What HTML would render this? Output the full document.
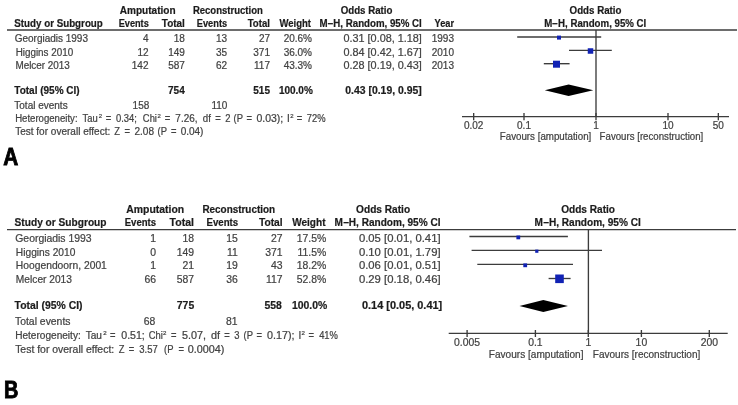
<!DOCTYPE html>
<html><head><meta charset="utf-8"><style>
html,body{margin:0;padding:0;background:#fff;width:738px;height:405px;overflow:hidden}
svg{display:block;font-family:"Liberation Sans",sans-serif;filter:blur(0.35px)}
</style></head><body>
<svg width="738" height="405" viewBox="0 0 738 405">
<rect width="738" height="405" fill="#fff"/>
<text x="119.80" y="14.30" font-size="10.0" font-weight="bold" textLength="55.80" lengthAdjust="spacingAndGlyphs" fill="#1c1c1c" stroke="#1c1c1c" stroke-width="0.2">Amputation</text>
<text x="192.90" y="14.30" font-size="10.0" font-weight="bold" textLength="69.90" lengthAdjust="spacingAndGlyphs" fill="#1c1c1c" stroke="#1c1c1c" stroke-width="0.2">Reconstruction</text>
<text x="340.70" y="14.30" font-size="10.0" font-weight="bold" textLength="51.80" lengthAdjust="spacingAndGlyphs" fill="#1c1c1c" stroke="#1c1c1c" stroke-width="0.2">Odds Ratio</text>
<text x="569.60" y="14.30" font-size="10.0" font-weight="bold" textLength="51.90" lengthAdjust="spacingAndGlyphs" fill="#1c1c1c" stroke="#1c1c1c" stroke-width="0.2">Odds Ratio</text>
<text x="14.30" y="27.30" font-size="10.0" font-weight="bold" textLength="88.50" lengthAdjust="spacingAndGlyphs" fill="#1c1c1c" stroke="#1c1c1c" stroke-width="0.2">Study or Subgroup</text>
<text x="118.70" y="27.30" font-size="10.0" font-weight="bold" textLength="30.10" lengthAdjust="spacingAndGlyphs" fill="#1c1c1c" stroke="#1c1c1c" stroke-width="0.2">Events</text>
<text x="161.80" y="27.30" font-size="10.0" font-weight="bold" textLength="23.10" lengthAdjust="spacingAndGlyphs" fill="#1c1c1c" stroke="#1c1c1c" stroke-width="0.2">Total</text>
<text x="196.80" y="27.30" font-size="10.0" font-weight="bold" textLength="30.30" lengthAdjust="spacingAndGlyphs" fill="#1c1c1c" stroke="#1c1c1c" stroke-width="0.2">Events</text>
<text x="247.70" y="27.30" font-size="10.0" font-weight="bold" textLength="22.30" lengthAdjust="spacingAndGlyphs" fill="#1c1c1c" stroke="#1c1c1c" stroke-width="0.2">Total</text>
<text x="279.40" y="27.30" font-size="10.0" font-weight="bold" textLength="31.60" lengthAdjust="spacingAndGlyphs" fill="#1c1c1c" stroke="#1c1c1c" stroke-width="0.2">Weight</text>
<text x="319.60" y="27.30" font-size="10.0" font-weight="bold" textLength="102.20" lengthAdjust="spacingAndGlyphs" fill="#1c1c1c" stroke="#1c1c1c" stroke-width="0.2">M&#8722;H, Random, 95% CI</text>
<text x="434.50" y="27.30" font-size="10.0" font-weight="bold" textLength="19.50" lengthAdjust="spacingAndGlyphs" fill="#1c1c1c" stroke="#1c1c1c" stroke-width="0.2">Year</text>
<text x="544.30" y="27.30" font-size="10.0" font-weight="bold" textLength="102.00" lengthAdjust="spacingAndGlyphs" fill="#1c1c1c" stroke="#1c1c1c" stroke-width="0.2">M&#8722;H, Random, 95% CI</text>
<line x1="7.00" y1="30.00" x2="737.00" y2="30.00" stroke="#3c3c3c" stroke-width="1.5"/>
<text x="14.75" y="42.00" font-size="10.0" textLength="73.18" lengthAdjust="spacingAndGlyphs" fill="#424242" stroke="#424242" stroke-width="0.22">Georgiadis 1993</text>
<text x="148.50" y="42.00" font-size="10.0" text-anchor="end" textLength="5.56" lengthAdjust="spacingAndGlyphs" fill="#424242" stroke="#424242" stroke-width="0.22">4</text>
<text x="184.90" y="42.00" font-size="10.0" text-anchor="end" textLength="11.12" lengthAdjust="spacingAndGlyphs" fill="#424242" stroke="#424242" stroke-width="0.22">18</text>
<text x="227.10" y="42.00" font-size="10.0" text-anchor="end" textLength="11.12" lengthAdjust="spacingAndGlyphs" fill="#424242" stroke="#424242" stroke-width="0.22">13</text>
<text x="270.00" y="42.00" font-size="10.0" text-anchor="end" textLength="11.12" lengthAdjust="spacingAndGlyphs" fill="#424242" stroke="#424242" stroke-width="0.22">27</text>
<text x="312.00" y="42.00" font-size="10.0" text-anchor="end" textLength="28.35" lengthAdjust="spacingAndGlyphs" fill="#424242" stroke="#424242" stroke-width="0.22">20.6%</text>
<text x="421.80" y="42.00" font-size="10.0" text-anchor="end" textLength="78.30" lengthAdjust="spacingAndGlyphs" fill="#424242" stroke="#424242" stroke-width="0.22">0.31 [0.08, 1.18]</text>
<text x="454.00" y="42.00" font-size="10.0" text-anchor="end" textLength="22.24" lengthAdjust="spacingAndGlyphs" fill="#424242" stroke="#424242" stroke-width="0.22">1993</text>
<line x1="517.20" y1="37.00" x2="601.20" y2="37.00" stroke="#3c3c3c" stroke-width="1.35"/>
<rect x="557.00" y="35.60" width="4.00" height="4.00" fill="#1122b4"/>
<text x="15.65" y="55.50" font-size="10.0" textLength="57.47" lengthAdjust="spacingAndGlyphs" fill="#424242" stroke="#424242" stroke-width="0.22">Higgins 2010</text>
<text x="148.50" y="55.50" font-size="10.0" text-anchor="end" textLength="11.12" lengthAdjust="spacingAndGlyphs" fill="#424242" stroke="#424242" stroke-width="0.22">12</text>
<text x="184.90" y="55.50" font-size="10.0" text-anchor="end" textLength="16.68" lengthAdjust="spacingAndGlyphs" fill="#424242" stroke="#424242" stroke-width="0.22">149</text>
<text x="227.10" y="55.50" font-size="10.0" text-anchor="end" textLength="11.12" lengthAdjust="spacingAndGlyphs" fill="#424242" stroke="#424242" stroke-width="0.22">35</text>
<text x="270.00" y="55.50" font-size="10.0" text-anchor="end" textLength="16.68" lengthAdjust="spacingAndGlyphs" fill="#424242" stroke="#424242" stroke-width="0.22">371</text>
<text x="312.00" y="55.50" font-size="10.0" text-anchor="end" textLength="28.35" lengthAdjust="spacingAndGlyphs" fill="#424242" stroke="#424242" stroke-width="0.22">36.0%</text>
<text x="421.80" y="55.50" font-size="10.0" text-anchor="end" textLength="78.30" lengthAdjust="spacingAndGlyphs" fill="#424242" stroke="#424242" stroke-width="0.22">0.84 [0.42, 1.67]</text>
<text x="454.00" y="55.50" font-size="10.0" text-anchor="end" textLength="22.24" lengthAdjust="spacingAndGlyphs" fill="#424242" stroke="#424242" stroke-width="0.22">2010</text>
<line x1="569.00" y1="50.30" x2="611.80" y2="50.30" stroke="#3c3c3c" stroke-width="1.35"/>
<rect x="587.75" y="48.25" width="5.50" height="5.50" fill="#1122b4"/>
<text x="15.45" y="68.80" font-size="10.0" textLength="54.42" lengthAdjust="spacingAndGlyphs" fill="#424242" stroke="#424242" stroke-width="0.22">Melcer 2013</text>
<text x="148.50" y="68.80" font-size="10.0" text-anchor="end" textLength="16.68" lengthAdjust="spacingAndGlyphs" fill="#424242" stroke="#424242" stroke-width="0.22">142</text>
<text x="184.90" y="68.80" font-size="10.0" text-anchor="end" textLength="16.68" lengthAdjust="spacingAndGlyphs" fill="#424242" stroke="#424242" stroke-width="0.22">587</text>
<text x="227.10" y="68.80" font-size="10.0" text-anchor="end" textLength="11.12" lengthAdjust="spacingAndGlyphs" fill="#424242" stroke="#424242" stroke-width="0.22">62</text>
<text x="270.00" y="68.80" font-size="10.0" text-anchor="end" textLength="15.94" lengthAdjust="spacingAndGlyphs" fill="#424242" stroke="#424242" stroke-width="0.22">117</text>
<text x="312.00" y="68.80" font-size="10.0" text-anchor="end" textLength="28.35" lengthAdjust="spacingAndGlyphs" fill="#424242" stroke="#424242" stroke-width="0.22">43.3%</text>
<text x="421.80" y="68.80" font-size="10.0" text-anchor="end" textLength="78.30" lengthAdjust="spacingAndGlyphs" fill="#424242" stroke="#424242" stroke-width="0.22">0.28 [0.19, 0.43]</text>
<text x="454.00" y="68.80" font-size="10.0" text-anchor="end" textLength="22.24" lengthAdjust="spacingAndGlyphs" fill="#424242" stroke="#424242" stroke-width="0.22">2013</text>
<line x1="543.80" y1="63.70" x2="569.60" y2="63.70" stroke="#3c3c3c" stroke-width="1.35"/>
<rect x="553.00" y="60.70" width="7.00" height="7.00" fill="#1122b4"/>
<text x="14.30" y="93.50" font-size="10.0" font-weight="bold" textLength="65.37" lengthAdjust="spacingAndGlyphs" fill="#1c1c1c" stroke="#1c1c1c" stroke-width="0.2">Total (95% CI)</text>
<text x="184.70" y="93.50" font-size="10.0" font-weight="bold" text-anchor="end" textLength="16.68" lengthAdjust="spacingAndGlyphs" fill="#1c1c1c" stroke="#1c1c1c" stroke-width="0.2">754</text>
<text x="270.00" y="93.50" font-size="10.0" font-weight="bold" text-anchor="end" textLength="16.68" lengthAdjust="spacingAndGlyphs" fill="#1c1c1c" stroke="#1c1c1c" stroke-width="0.2">515</text>
<text x="312.80" y="93.50" font-size="10.0" font-weight="bold" text-anchor="end" textLength="33.91" lengthAdjust="spacingAndGlyphs" fill="#1c1c1c" stroke="#1c1c1c" stroke-width="0.2">100.0%</text>
<text x="421.70" y="93.50" font-size="10.0" font-weight="bold" text-anchor="end" textLength="76.40" lengthAdjust="spacingAndGlyphs" fill="#1c1c1c" stroke="#1c1c1c" stroke-width="0.2">0.43 [0.19, 0.95]</text>
<polygon points="544.80,90.20 568.60,84.50 593.30,90.20 568.60,95.90" fill="#000"/>
<text x="14.30" y="108.80" font-size="10.0" textLength="53.36" lengthAdjust="spacingAndGlyphs" fill="#424242" stroke="#424242" stroke-width="0.22">Total events</text>
<text x="149.30" y="108.80" font-size="10.0" text-anchor="end" textLength="16.68" lengthAdjust="spacingAndGlyphs" fill="#424242" stroke="#424242" stroke-width="0.22">158</text>
<text x="227.40" y="108.80" font-size="10.0" text-anchor="end" textLength="15.94" lengthAdjust="spacingAndGlyphs" fill="#424242" stroke="#424242" stroke-width="0.22">110</text>
<text x="15.15" y="122.10" font-size="10.0" textLength="62.43" lengthAdjust="spacingAndGlyphs" fill="#424242" stroke="#424242" stroke-width="0.22">Heterogeneity:</text>
<text x="82.58" y="122.10" font-size="10.0" textLength="15.15" lengthAdjust="spacingAndGlyphs" fill="#424242" stroke="#424242" stroke-width="0.22">Tau</text>
<text x="98.80" y="118.20" font-size="6.0" textLength="3.34" lengthAdjust="spacingAndGlyphs" fill="#424242" stroke="#424242" stroke-width="0.22">2</text>
<text x="105.87" y="122.10" font-size="10.0" textLength="5.49" lengthAdjust="spacingAndGlyphs" fill="#424242" stroke="#424242" stroke-width="0.22">=</text>
<text x="116.02" y="122.10" font-size="10.0" textLength="20.90" lengthAdjust="spacingAndGlyphs" fill="#424242" stroke="#424242" stroke-width="0.22">0.34;</text>
<text x="142.85" y="122.10" font-size="10.0" textLength="14.10" lengthAdjust="spacingAndGlyphs" fill="#424242" stroke="#424242" stroke-width="0.22">Chi</text>
<text x="157.50" y="118.20" font-size="6.0" textLength="3.34" lengthAdjust="spacingAndGlyphs" fill="#424242" stroke="#424242" stroke-width="0.22">2</text>
<text x="164.85" y="122.10" font-size="10.0" textLength="5.54" lengthAdjust="spacingAndGlyphs" fill="#424242" stroke="#424242" stroke-width="0.22">=</text>
<text x="175.35" y="122.10" font-size="10.0" textLength="22.14" lengthAdjust="spacingAndGlyphs" fill="#424242" stroke="#424242" stroke-width="0.22">7.26,</text>
<text x="202.85" y="122.10" font-size="10.0" textLength="8.04" lengthAdjust="spacingAndGlyphs" fill="#424242" stroke="#424242" stroke-width="0.22">df</text>
<text x="215.25" y="122.10" font-size="10.0" textLength="5.54" lengthAdjust="spacingAndGlyphs" fill="#424242" stroke="#424242" stroke-width="0.22">=</text>
<text x="225.27" y="122.10" font-size="10.0" textLength="5.23" lengthAdjust="spacingAndGlyphs" fill="#424242" stroke="#424242" stroke-width="0.22">2</text>
<text x="233.55" y="122.10" font-size="10.0" textLength="9.40" lengthAdjust="spacingAndGlyphs" fill="#424242" stroke="#424242" stroke-width="0.22">(P</text>
<text x="246.57" y="122.10" font-size="10.0" textLength="5.49" lengthAdjust="spacingAndGlyphs" fill="#424242" stroke="#424242" stroke-width="0.22">=</text>
<text x="256.45" y="122.10" font-size="10.0" textLength="26.77" lengthAdjust="spacingAndGlyphs" fill="#424242" stroke="#424242" stroke-width="0.22">0.03);</text>
<text x="287.00" y="122.10" font-size="10.0" textLength="2.78" lengthAdjust="spacingAndGlyphs" fill="#424242" stroke="#424242" stroke-width="0.22">I</text>
<text x="290.20" y="118.20" font-size="6.0" textLength="3.34" lengthAdjust="spacingAndGlyphs" fill="#424242" stroke="#424242" stroke-width="0.22">2</text>
<text x="296.77" y="122.10" font-size="10.0" textLength="5.49" lengthAdjust="spacingAndGlyphs" fill="#424242" stroke="#424242" stroke-width="0.22">=</text>
<text x="306.85" y="122.10" font-size="10.0" textLength="18.81" lengthAdjust="spacingAndGlyphs" fill="#424242" stroke="#424242" stroke-width="0.22">72%</text>
<text x="15.15" y="135.30" font-size="10.0" textLength="95.15" lengthAdjust="spacingAndGlyphs" fill="#424242" stroke="#424242" stroke-width="0.22">Test for overall effect:</text>
<text x="114.13" y="135.30" font-size="10.0" textLength="5.74" lengthAdjust="spacingAndGlyphs" fill="#424242" stroke="#424242" stroke-width="0.22">Z</text>
<text x="124.42" y="135.30" font-size="10.0" textLength="5.49" lengthAdjust="spacingAndGlyphs" fill="#424242" stroke="#424242" stroke-width="0.22">=</text>
<text x="134.45" y="135.30" font-size="10.0" textLength="19.56" lengthAdjust="spacingAndGlyphs" fill="#424242" stroke="#424242" stroke-width="0.22">2.08</text>
<text x="157.50" y="135.30" font-size="10.0" textLength="9.40" lengthAdjust="spacingAndGlyphs" fill="#424242" stroke="#424242" stroke-width="0.22">(P</text>
<text x="171.12" y="135.30" font-size="10.0" textLength="5.49" lengthAdjust="spacingAndGlyphs" fill="#424242" stroke="#424242" stroke-width="0.22">=</text>
<text x="180.65" y="135.30" font-size="10.0" textLength="22.79" lengthAdjust="spacingAndGlyphs" fill="#424242" stroke="#424242" stroke-width="0.22">0.04)</text>
<line x1="596.00" y1="30.00" x2="596.00" y2="117.00" stroke="#3c3c3c" stroke-width="1.35"/>
<line x1="462.00" y1="116.60" x2="729.00" y2="116.60" stroke="#3c3c3c" stroke-width="1.35"/>
<line x1="473.67" y1="113.00" x2="473.67" y2="120.30" stroke="#3c3c3c" stroke-width="1.35"/>
<text x="473.67" y="129.00" font-size="10" text-anchor="middle" textLength="19.46" lengthAdjust="spacingAndGlyphs" fill="#424242" stroke="#424242" stroke-width="0.22">0.02</text>
<line x1="524.00" y1="113.00" x2="524.00" y2="120.30" stroke="#3c3c3c" stroke-width="1.35"/>
<text x="524.00" y="129.00" font-size="10" text-anchor="middle" textLength="13.90" lengthAdjust="spacingAndGlyphs" fill="#424242" stroke="#424242" stroke-width="0.22">0.1</text>
<line x1="596.00" y1="113.00" x2="596.00" y2="120.30" stroke="#3c3c3c" stroke-width="1.35"/>
<text x="596.00" y="129.00" font-size="10" text-anchor="middle" textLength="5.56" lengthAdjust="spacingAndGlyphs" fill="#424242" stroke="#424242" stroke-width="0.22">1</text>
<line x1="668.00" y1="113.00" x2="668.00" y2="120.30" stroke="#3c3c3c" stroke-width="1.35"/>
<text x="668.00" y="129.00" font-size="10" text-anchor="middle" textLength="11.12" lengthAdjust="spacingAndGlyphs" fill="#424242" stroke="#424242" stroke-width="0.22">10</text>
<line x1="718.33" y1="113.00" x2="718.33" y2="120.30" stroke="#3c3c3c" stroke-width="1.35"/>
<text x="718.33" y="129.00" font-size="10" text-anchor="middle" textLength="11.12" lengthAdjust="spacingAndGlyphs" fill="#424242" stroke="#424242" stroke-width="0.22">50</text>
<text x="499.80" y="139.90" font-size="10" textLength="91.50" lengthAdjust="spacingAndGlyphs" fill="#424242" stroke="#424242" stroke-width="0.22">Favours [amputation]</text>
<text x="599.60" y="139.90" font-size="10" textLength="103.70" lengthAdjust="spacingAndGlyphs" fill="#424242" stroke="#424242" stroke-width="0.22">Favours [reconstruction]</text>
<text x="3.30" y="164.90" font-size="23.6" font-weight="bold" textLength="15.00" lengthAdjust="spacingAndGlyphs" fill="#000" stroke="#000" stroke-width="0.9">A</text>
<text x="126.30" y="212.60" font-size="10.4" font-weight="bold" textLength="57.90" lengthAdjust="spacingAndGlyphs" fill="#1c1c1c" stroke="#1c1c1c" stroke-width="0.2">Amputation</text>
<text x="202.40" y="212.60" font-size="10.4" font-weight="bold" textLength="72.70" lengthAdjust="spacingAndGlyphs" fill="#1c1c1c" stroke="#1c1c1c" stroke-width="0.2">Reconstruction</text>
<text x="356.10" y="212.60" font-size="10.4" font-weight="bold" textLength="54.00" lengthAdjust="spacingAndGlyphs" fill="#1c1c1c" stroke="#1c1c1c" stroke-width="0.2">Odds Ratio</text>
<text x="561.20" y="212.60" font-size="10.4" font-weight="bold" textLength="53.80" lengthAdjust="spacingAndGlyphs" fill="#1c1c1c" stroke="#1c1c1c" stroke-width="0.2">Odds Ratio</text>
<text x="14.60" y="226.30" font-size="10.4" font-weight="bold" textLength="91.90" lengthAdjust="spacingAndGlyphs" fill="#1c1c1c" stroke="#1c1c1c" stroke-width="0.2">Study or Subgroup</text>
<text x="124.70" y="226.30" font-size="10.4" font-weight="bold" textLength="31.40" lengthAdjust="spacingAndGlyphs" fill="#1c1c1c" stroke="#1c1c1c" stroke-width="0.2">Events</text>
<text x="169.60" y="226.30" font-size="10.4" font-weight="bold" textLength="24.40" lengthAdjust="spacingAndGlyphs" fill="#1c1c1c" stroke="#1c1c1c" stroke-width="0.2">Total</text>
<text x="206.50" y="226.30" font-size="10.4" font-weight="bold" textLength="31.70" lengthAdjust="spacingAndGlyphs" fill="#1c1c1c" stroke="#1c1c1c" stroke-width="0.2">Events</text>
<text x="258.90" y="226.30" font-size="10.4" font-weight="bold" textLength="23.70" lengthAdjust="spacingAndGlyphs" fill="#1c1c1c" stroke="#1c1c1c" stroke-width="0.2">Total</text>
<text x="292.20" y="226.30" font-size="10.4" font-weight="bold" textLength="33.30" lengthAdjust="spacingAndGlyphs" fill="#1c1c1c" stroke="#1c1c1c" stroke-width="0.2">Weight</text>
<text x="334.50" y="226.30" font-size="10.4" font-weight="bold" textLength="106.00" lengthAdjust="spacingAndGlyphs" fill="#1c1c1c" stroke="#1c1c1c" stroke-width="0.2">M&#8722;H, Random, 95% CI</text>
<text x="534.60" y="226.30" font-size="10.4" font-weight="bold" textLength="106.20" lengthAdjust="spacingAndGlyphs" fill="#1c1c1c" stroke="#1c1c1c" stroke-width="0.2">M&#8722;H, Random, 95% CI</text>
<line x1="7.00" y1="229.60" x2="736.00" y2="229.60" stroke="#3c3c3c" stroke-width="1.4"/>
<text x="15.25" y="242.10" font-size="10.4" textLength="76.38" lengthAdjust="spacingAndGlyphs" fill="#424242" stroke="#424242" stroke-width="0.22">Georgiadis 1993</text>
<text x="156.10" y="242.10" font-size="10.4" text-anchor="end" textLength="5.78" lengthAdjust="spacingAndGlyphs" fill="#424242" stroke="#424242" stroke-width="0.22">1</text>
<text x="194.00" y="242.10" font-size="10.4" text-anchor="end" textLength="11.57" lengthAdjust="spacingAndGlyphs" fill="#424242" stroke="#424242" stroke-width="0.22">18</text>
<text x="237.90" y="242.10" font-size="10.4" text-anchor="end" textLength="11.57" lengthAdjust="spacingAndGlyphs" fill="#424242" stroke="#424242" stroke-width="0.22">15</text>
<text x="282.50" y="242.10" font-size="10.4" text-anchor="end" textLength="11.57" lengthAdjust="spacingAndGlyphs" fill="#424242" stroke="#424242" stroke-width="0.22">27</text>
<text x="326.20" y="242.10" font-size="10.4" text-anchor="end" textLength="29.49" lengthAdjust="spacingAndGlyphs" fill="#424242" stroke="#424242" stroke-width="0.22">17.5%</text>
<text x="440.60" y="242.10" font-size="10.4" text-anchor="end" textLength="81.70" lengthAdjust="spacingAndGlyphs" fill="#424242" stroke="#424242" stroke-width="0.22">0.05 [0.01, 0.41]</text>
<line x1="469.40" y1="236.50" x2="567.90" y2="236.50" stroke="#3c3c3c" stroke-width="1.35"/>
<rect x="516.40" y="235.50" width="3.80" height="3.80" fill="#1122b4"/>
<text x="15.85" y="255.60" font-size="10.4" textLength="59.47" lengthAdjust="spacingAndGlyphs" fill="#424242" stroke="#424242" stroke-width="0.22">Higgins 2010</text>
<text x="156.10" y="255.60" font-size="10.4" text-anchor="end" textLength="5.78" lengthAdjust="spacingAndGlyphs" fill="#424242" stroke="#424242" stroke-width="0.22">0</text>
<text x="194.00" y="255.60" font-size="10.4" text-anchor="end" textLength="17.35" lengthAdjust="spacingAndGlyphs" fill="#424242" stroke="#424242" stroke-width="0.22">149</text>
<text x="237.90" y="255.60" font-size="10.4" text-anchor="end" textLength="10.79" lengthAdjust="spacingAndGlyphs" fill="#424242" stroke="#424242" stroke-width="0.22">11</text>
<text x="282.50" y="255.60" font-size="10.4" text-anchor="end" textLength="17.35" lengthAdjust="spacingAndGlyphs" fill="#424242" stroke="#424242" stroke-width="0.22">371</text>
<text x="326.20" y="255.60" font-size="10.4" text-anchor="end" textLength="28.72" lengthAdjust="spacingAndGlyphs" fill="#424242" stroke="#424242" stroke-width="0.22">11.5%</text>
<text x="440.60" y="255.60" font-size="10.4" text-anchor="end" textLength="81.70" lengthAdjust="spacingAndGlyphs" fill="#424242" stroke="#424242" stroke-width="0.22">0.10 [0.01, 1.79]</text>
<line x1="471.60" y1="250.30" x2="602.00" y2="250.30" stroke="#3c3c3c" stroke-width="1.35"/>
<rect x="535.20" y="249.60" width="3.20" height="3.20" fill="#1122b4"/>
<text x="15.85" y="269.40" font-size="10.4" textLength="91.00" lengthAdjust="spacingAndGlyphs" fill="#424242" stroke="#424242" stroke-width="0.22">Hoogendoorn, 2001</text>
<text x="156.10" y="269.40" font-size="10.4" text-anchor="end" textLength="5.78" lengthAdjust="spacingAndGlyphs" fill="#424242" stroke="#424242" stroke-width="0.22">1</text>
<text x="194.00" y="269.40" font-size="10.4" text-anchor="end" textLength="11.57" lengthAdjust="spacingAndGlyphs" fill="#424242" stroke="#424242" stroke-width="0.22">21</text>
<text x="237.90" y="269.40" font-size="10.4" text-anchor="end" textLength="11.57" lengthAdjust="spacingAndGlyphs" fill="#424242" stroke="#424242" stroke-width="0.22">19</text>
<text x="282.50" y="269.40" font-size="10.4" text-anchor="end" textLength="11.57" lengthAdjust="spacingAndGlyphs" fill="#424242" stroke="#424242" stroke-width="0.22">43</text>
<text x="326.20" y="269.40" font-size="10.4" text-anchor="end" textLength="29.49" lengthAdjust="spacingAndGlyphs" fill="#424242" stroke="#424242" stroke-width="0.22">18.2%</text>
<text x="440.60" y="269.40" font-size="10.4" text-anchor="end" textLength="81.70" lengthAdjust="spacingAndGlyphs" fill="#424242" stroke="#424242" stroke-width="0.22">0.06 [0.01, 0.51]</text>
<line x1="477.30" y1="264.40" x2="573.00" y2="264.40" stroke="#3c3c3c" stroke-width="1.35"/>
<rect x="523.30" y="263.40" width="3.80" height="3.80" fill="#1122b4"/>
<text x="15.85" y="283.20" font-size="10.4" textLength="56.13" lengthAdjust="spacingAndGlyphs" fill="#424242" stroke="#424242" stroke-width="0.22">Melcer 2013</text>
<text x="156.10" y="283.20" font-size="10.4" text-anchor="end" textLength="11.57" lengthAdjust="spacingAndGlyphs" fill="#424242" stroke="#424242" stroke-width="0.22">66</text>
<text x="194.00" y="283.20" font-size="10.4" text-anchor="end" textLength="17.35" lengthAdjust="spacingAndGlyphs" fill="#424242" stroke="#424242" stroke-width="0.22">587</text>
<text x="237.90" y="283.20" font-size="10.4" text-anchor="end" textLength="11.57" lengthAdjust="spacingAndGlyphs" fill="#424242" stroke="#424242" stroke-width="0.22">36</text>
<text x="282.50" y="283.20" font-size="10.4" text-anchor="end" textLength="16.58" lengthAdjust="spacingAndGlyphs" fill="#424242" stroke="#424242" stroke-width="0.22">117</text>
<text x="326.20" y="283.20" font-size="10.4" text-anchor="end" textLength="29.49" lengthAdjust="spacingAndGlyphs" fill="#424242" stroke="#424242" stroke-width="0.22">52.8%</text>
<text x="440.60" y="283.20" font-size="10.4" text-anchor="end" textLength="81.70" lengthAdjust="spacingAndGlyphs" fill="#424242" stroke="#424242" stroke-width="0.22">0.29 [0.18, 0.46]</text>
<line x1="548.60" y1="278.50" x2="570.60" y2="278.50" stroke="#3c3c3c" stroke-width="1.35"/>
<rect x="555.20" y="274.50" width="8.60" height="8.60" fill="#1122b4"/>
<text x="14.60" y="309.40" font-size="10.4" font-weight="bold" textLength="67.99" lengthAdjust="spacingAndGlyphs" fill="#1c1c1c" stroke="#1c1c1c" stroke-width="0.2">Total (95% CI)</text>
<text x="194.20" y="309.40" font-size="10.4" font-weight="bold" text-anchor="end" textLength="17.35" lengthAdjust="spacingAndGlyphs" fill="#1c1c1c" stroke="#1c1c1c" stroke-width="0.2">775</text>
<text x="281.80" y="309.40" font-size="10.4" font-weight="bold" text-anchor="end" textLength="17.35" lengthAdjust="spacingAndGlyphs" fill="#1c1c1c" stroke="#1c1c1c" stroke-width="0.2">558</text>
<text x="327.30" y="309.40" font-size="10.4" font-weight="bold" text-anchor="end" textLength="35.27" lengthAdjust="spacingAndGlyphs" fill="#1c1c1c" stroke="#1c1c1c" stroke-width="0.2">100.0%</text>
<text x="442.20" y="309.40" font-size="10.4" font-weight="bold" text-anchor="end" textLength="80.20" lengthAdjust="spacingAndGlyphs" fill="#1c1c1c" stroke="#1c1c1c" stroke-width="0.2">0.14 [0.05, 0.41]</text>
<polygon points="519.50,305.90 543.30,299.90 568.00,305.90 543.30,311.90" fill="#000"/>
<text x="15.00" y="325.00" font-size="10.4" textLength="55.50" lengthAdjust="spacingAndGlyphs" fill="#424242" stroke="#424242" stroke-width="0.22">Total events</text>
<text x="155.20" y="325.00" font-size="10.4" text-anchor="end" textLength="11.57" lengthAdjust="spacingAndGlyphs" fill="#424242" stroke="#424242" stroke-width="0.22">68</text>
<text x="237.50" y="325.00" font-size="10.4" text-anchor="end" textLength="11.57" lengthAdjust="spacingAndGlyphs" fill="#424242" stroke="#424242" stroke-width="0.22">81</text>
<text x="15.15" y="339.30" font-size="10.0" textLength="65.63" lengthAdjust="spacingAndGlyphs" fill="#424242" stroke="#424242" stroke-width="0.22">Heterogeneity:</text>
<text x="85.65" y="339.30" font-size="10.0" textLength="16.32" lengthAdjust="spacingAndGlyphs" fill="#424242" stroke="#424242" stroke-width="0.22">Tau</text>
<text x="103.20" y="335.40" font-size="6.2" textLength="3.45" lengthAdjust="spacingAndGlyphs" fill="#424242" stroke="#424242" stroke-width="0.22">2</text>
<text x="109.97" y="339.30" font-size="10.0" textLength="5.49" lengthAdjust="spacingAndGlyphs" fill="#424242" stroke="#424242" stroke-width="0.22">=</text>
<text x="121.25" y="339.30" font-size="10.0" textLength="23.54" lengthAdjust="spacingAndGlyphs" fill="#424242" stroke="#424242" stroke-width="0.22">0.51;</text>
<text x="148.65" y="339.30" font-size="10.0" textLength="14.10" lengthAdjust="spacingAndGlyphs" fill="#424242" stroke="#424242" stroke-width="0.22">Chi</text>
<text x="163.00" y="335.40" font-size="6.2" textLength="3.45" lengthAdjust="spacingAndGlyphs" fill="#424242" stroke="#424242" stroke-width="0.22">2</text>
<text x="170.97" y="339.30" font-size="10.0" textLength="5.49" lengthAdjust="spacingAndGlyphs" fill="#424242" stroke="#424242" stroke-width="0.22">=</text>
<text x="182.06" y="339.30" font-size="10.0" textLength="24.02" lengthAdjust="spacingAndGlyphs" fill="#424242" stroke="#424242" stroke-width="0.22">5.07,</text>
<text x="211.06" y="339.30" font-size="10.0" textLength="9.01" lengthAdjust="spacingAndGlyphs" fill="#424242" stroke="#424242" stroke-width="0.22">df</text>
<text x="224.32" y="339.30" font-size="10.0" textLength="5.49" lengthAdjust="spacingAndGlyphs" fill="#424242" stroke="#424242" stroke-width="0.22">=</text>
<text x="234.17" y="339.30" font-size="10.0" textLength="5.23" lengthAdjust="spacingAndGlyphs" fill="#424242" stroke="#424242" stroke-width="0.22">3</text>
<text x="243.60" y="339.30" font-size="10.0" textLength="9.40" lengthAdjust="spacingAndGlyphs" fill="#424242" stroke="#424242" stroke-width="0.22">(P</text>
<text x="256.47" y="339.30" font-size="10.0" textLength="5.49" lengthAdjust="spacingAndGlyphs" fill="#424242" stroke="#424242" stroke-width="0.22">=</text>
<text x="267.05" y="339.30" font-size="10.0" textLength="27.47" lengthAdjust="spacingAndGlyphs" fill="#424242" stroke="#424242" stroke-width="0.22">0.17);</text>
<text x="298.60" y="339.30" font-size="10.0" textLength="2.78" lengthAdjust="spacingAndGlyphs" fill="#424242" stroke="#424242" stroke-width="0.22">I</text>
<text x="301.40" y="335.40" font-size="6.2" textLength="3.45" lengthAdjust="spacingAndGlyphs" fill="#424242" stroke="#424242" stroke-width="0.22">2</text>
<text x="308.62" y="339.30" font-size="10.0" textLength="5.49" lengthAdjust="spacingAndGlyphs" fill="#424242" stroke="#424242" stroke-width="0.22">=</text>
<text x="319.15" y="339.30" font-size="10.0" textLength="18.81" lengthAdjust="spacingAndGlyphs" fill="#424242" stroke="#424242" stroke-width="0.22">41%</text>
<text x="15.15" y="353.30" font-size="10.0" textLength="99.05" lengthAdjust="spacingAndGlyphs" fill="#424242" stroke="#424242" stroke-width="0.22">Test for overall effect:</text>
<text x="118.73" y="353.30" font-size="10.0" textLength="5.74" lengthAdjust="spacingAndGlyphs" fill="#424242" stroke="#424242" stroke-width="0.22">Z</text>
<text x="128.67" y="353.30" font-size="10.0" textLength="5.49" lengthAdjust="spacingAndGlyphs" fill="#424242" stroke="#424242" stroke-width="0.22">=</text>
<text x="139.35" y="353.30" font-size="10.0" textLength="18.46" lengthAdjust="spacingAndGlyphs" fill="#424242" stroke="#424242" stroke-width="0.22">3.57</text>
<text x="164.00" y="353.30" font-size="10.0" textLength="9.40" lengthAdjust="spacingAndGlyphs" fill="#424242" stroke="#424242" stroke-width="0.22">(P</text>
<text x="178.42" y="353.30" font-size="10.0" textLength="5.49" lengthAdjust="spacingAndGlyphs" fill="#424242" stroke="#424242" stroke-width="0.22">=</text>
<text x="187.79" y="353.30" font-size="10.0" textLength="36.63" lengthAdjust="spacingAndGlyphs" fill="#424242" stroke="#424242" stroke-width="0.22">0.0004)</text>
<line x1="588.40" y1="229.60" x2="588.40" y2="333.50" stroke="#3c3c3c" stroke-width="1.35"/>
<line x1="448.70" y1="333.40" x2="727.70" y2="333.40" stroke="#3c3c3c" stroke-width="1.35"/>
<line x1="467.10" y1="330.00" x2="467.10" y2="337.00" stroke="#3c3c3c" stroke-width="1.35"/>
<text x="467.10" y="345.80" font-size="10.4" text-anchor="middle" textLength="26.02" lengthAdjust="spacingAndGlyphs" fill="#424242" stroke="#424242" stroke-width="0.22">0.005</text>
<line x1="535.40" y1="330.00" x2="535.40" y2="337.00" stroke="#3c3c3c" stroke-width="1.35"/>
<text x="535.40" y="345.80" font-size="10.4" text-anchor="middle" textLength="14.46" lengthAdjust="spacingAndGlyphs" fill="#424242" stroke="#424242" stroke-width="0.22">0.1</text>
<line x1="588.30" y1="330.00" x2="588.30" y2="337.00" stroke="#3c3c3c" stroke-width="1.35"/>
<text x="588.30" y="345.80" font-size="10.4" text-anchor="middle" textLength="5.78" lengthAdjust="spacingAndGlyphs" fill="#424242" stroke="#424242" stroke-width="0.22">1</text>
<line x1="641.40" y1="330.00" x2="641.40" y2="337.00" stroke="#3c3c3c" stroke-width="1.35"/>
<text x="641.40" y="345.80" font-size="10.4" text-anchor="middle" textLength="11.57" lengthAdjust="spacingAndGlyphs" fill="#424242" stroke="#424242" stroke-width="0.22">10</text>
<line x1="709.30" y1="330.00" x2="709.30" y2="337.00" stroke="#3c3c3c" stroke-width="1.35"/>
<text x="709.30" y="345.80" font-size="10.4" text-anchor="middle" textLength="17.35" lengthAdjust="spacingAndGlyphs" fill="#424242" stroke="#424242" stroke-width="0.22">200</text>
<text x="488.80" y="358.10" font-size="10.4" textLength="94.70" lengthAdjust="spacingAndGlyphs" fill="#424242" stroke="#424242" stroke-width="0.22">Favours [amputation]</text>
<text x="592.80" y="358.10" font-size="10.4" textLength="107.50" lengthAdjust="spacingAndGlyphs" fill="#424242" stroke="#424242" stroke-width="0.22">Favours [reconstruction]</text>
<text x="3.90" y="397.90" font-size="23.6" font-weight="bold" textLength="14.40" lengthAdjust="spacingAndGlyphs" fill="#000" stroke="#000" stroke-width="0.9">B</text>
</svg>
</body></html>
